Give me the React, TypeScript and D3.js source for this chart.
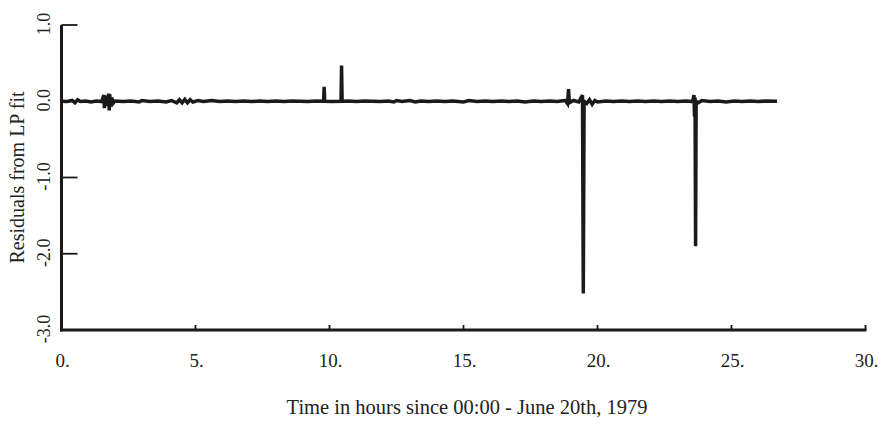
import React from "react";
import * as d3 from "d3";

const hours: number[] = [
  0.0, 0.2, 0.4, 0.5, 0.6, 0.7, 0.9, 1.1, 1.3, 1.5,
  1.58, 1.6, 1.62, 1.7, 1.76, 1.78, 1.8, 1.84, 1.88, 1.92,
  2.0, 2.3, 2.6, 2.9, 3.0, 3.3, 3.6, 3.9, 4.1, 4.3,
  4.4, 4.5, 4.6, 4.7, 4.8, 4.9, 5.1, 5.3, 5.6, 5.9,
  6.2, 6.5, 6.8, 7.1, 7.4, 7.7, 8.0, 8.3, 8.6, 8.9,
  9.2, 9.5, 9.78, 9.8, 9.82, 10.1, 10.43, 10.45, 10.47, 10.7,
  11.0, 11.3, 11.6, 11.9, 12.2, 12.4, 12.5, 12.7, 13.0, 13.2,
  13.4, 13.7, 14.0, 14.3, 14.6, 15.0, 15.2, 15.5, 15.8, 16.1,
  16.4, 16.7, 17.0, 17.3, 17.6, 17.9, 18.2, 18.5, 18.8, 18.88,
  18.92, 18.95, 19.1, 19.3, 19.44, 19.47, 19.5, 19.6, 19.7, 19.8,
  19.9, 20.0, 20.3, 20.6, 20.9, 21.2, 21.5, 21.8, 22.1, 22.4,
  22.7, 23.0, 23.3, 23.55, 23.6, 23.62, 23.64, 23.66, 23.68, 23.75,
  23.9, 24.2, 24.5, 24.8, 25.1, 25.4, 25.7, 26.0, 26.3, 26.7,
];

const residuals: number[] = [
  0.0, -0.004, 0.01, -0.02, 0.02, -0.004, 0.004, -0.01, 0.004, -0.004,
  0.08, -0.09, 0.07, -0.06, 0.1, -0.12, 0.09, -0.07, 0.05, -0.03,
  0.004, -0.004, 0.004, -0.01, 0.01, -0.004, 0.004, -0.01, 0.01, -0.02,
  0.02, -0.02, 0.025, -0.02, 0.02, -0.01, 0.01, -0.004, 0.01, -0.004,
  0.004, -0.004, 0.004, -0.004, 0.004, -0.004, 0.004, -0.004, 0.004, 0.0,
  -0.004, 0.004, 0.0, 0.19, 0.0, -0.004, 0.0, 0.47, 0.0, 0.004,
  -0.004, 0.004, 0.0, -0.004, 0.004, -0.01, 0.01, -0.004, 0.01, -0.01,
  0.004, -0.004, 0.004, -0.004, 0.004, -0.01, 0.01, -0.004, 0.004, -0.004,
  0.004, -0.004, 0.004, -0.01, 0.004, -0.004, 0.004, -0.004, 0.01, -0.03,
  0.16, -0.02, 0.01, -0.01, 0.08, -2.52, 0.0, -0.03, 0.02, -0.04,
  0.01, -0.01, 0.004, -0.004, 0.004, -0.004, 0.004, -0.004, 0.004, -0.004,
  0.004, -0.004, 0.004, -0.004, 0.08, -0.2, 0.05, -1.9, 0.0, -0.02,
  0.01, -0.004, 0.004, -0.01, 0.004, -0.004, 0.004, -0.004, 0.004, 0.0,
];

const xTicks: number[] = [0, 5, 10, 15, 20, 25, 30];
const xTickLabels: string[] = ["0.", "5.", "10.", "15.", "20.", "25.", "30."];
const yTicks: number[] = [1, 0, -1, -2, -3];
const yTickLabels: string[] = ["1.0", "0.0", "-1.0", "-2.0", "-3.0"];

const xTitle = "Time in hours since 00:00 - June 20th, 1979";
const yTitle = "Residuals from LP fit";

export default function App() {
  const W = 883;
  const H = 426;
  const x = d3.scaleLinear().domain([0, 30]).range([61.5, 865.5]);
  const y = d3.scaleLinear().domain([-3, 1]).range([330, 25]);
  const pts: [number, number][] = hours.map((h, i) => [h, residuals[i]]);
  const line = d3
    .line<[number, number]>()
    .x((d) => x(d[0]))
    .y((d) => y(d[1]));
  const font = "'Liberation Serif', 'Times New Roman', serif";
  const ink = "#1a1a1a";
  return (
    <svg
      width={W}
      height={H}
      style={{ position: "absolute", left: 0, top: 0, background: "#fff" }}
      fontFamily={font}
    >
      <rect width={W} height={H} fill="#fff" />
      <path d={line(pts) || ""} fill="none" stroke={ink} strokeWidth={3.5} strokeLinejoin="miter" />
      <line x1={x(0)} x2={x(0)} y1={y(1)} y2={y(-3) + 1.5} stroke={ink} strokeWidth={3} />
      {yTicks.map((t, i) => (
        <g key={"yt" + i}>
          <line x1={x(0)} x2={x(0) + 16} y1={y(t)} y2={y(t)} stroke={ink} strokeWidth={1.8} />
          <text
            transform={`translate(50,${y(t) - 1}) rotate(-90)`}
            textAnchor="middle"
            fontSize={18}
            fill="#222"
          >
            {yTickLabels[i]}
          </text>
        </g>
      ))}
      <line x1={x(0) - 1.5} x2={x(30) + 1} y1={y(-3)} y2={y(-3)} stroke={ink} strokeWidth={3} />
      {xTicks.map((t, i) => (
        <g key={"xt" + i}>
          <line x1={x(t)} x2={x(t)} y1={y(-3)} y2={y(-3) - 5} stroke={ink} strokeWidth={1.8} />
          <text x={x(t) + 1} y={367} textAnchor="middle" fontSize={19} fill="#222">
            {xTickLabels[i]}
          </text>
        </g>
      ))}
      <text x={467} y={414} textAnchor="middle" fontSize={20.5} fill="#222">
        {xTitle}
      </text>
      <text
        transform={`translate(24,177.5) rotate(-90)`}
        textAnchor="middle"
        fontSize={20}
        fill="#222"
      >
        {yTitle}
      </text>
    </svg>
  );
}
